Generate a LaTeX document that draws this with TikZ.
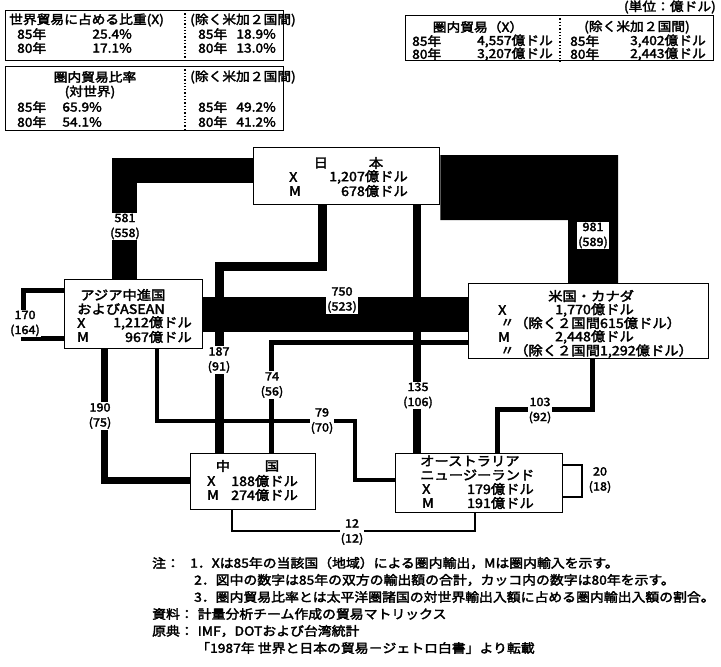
\documentclass[tikz,border=0pt]{standalone}
\usepackage{fontspec}
\setmainfont{Noto Sans CJK JP}[FakeBold=2.5, FakeStretch=1.1]
\pgfdeclarelayer{bg}
\pgfsetlayers{bg,main}
\newcommand\topf{\fontsize{12.5}{14}\selectfont}
\newcommand\boxf{\fontsize{13}{14}\selectfont}
\newcommand\lblf{\fontsize{11.5}{15}\selectfont}
\newcommand\notef{\fontsize{12.6}{14}\selectfont}
\begin{document}
\begin{tikzpicture}[x=1pt,y=-1pt,
  box/.style={draw, line width=1.3pt, fill=white, inner sep=0pt, anchor=north west},
  wire/.style={draw, line join=miter, line cap=butt},
  lbl/.style={fill=white, inner sep=1pt, align=center, font=\lblf},
  tx/.style={inner sep=0pt, anchor=west, font=\boxf},
  tc/.style={inner sep=0pt, anchor=center, font=\boxf},
  te/.style={inner sep=0pt, anchor=east, font=\boxf},
  sx/.style={inner sep=0pt, anchor=west, font=\topf},
  sc/.style={inner sep=0pt, anchor=center, font=\topf},
  se/.style={inner sep=0pt, anchor=east, font=\topf},
  nx/.style={inner sep=0pt, anchor=west, font=\notef},
  divider/.style={dotted, line width=1.3pt}]
\useasboundingbox (0,0) rectangle (721,667);

% ---------- boxes ----------
\node[box, minimum width=278pt, minimum height=50pt] (b1) at (5,10) {};
\node[box, minimum width=278pt, minimum height=64pt] (b2) at (5,66) {};
\node[box, minimum width=308pt, minimum height=45pt] (b3) at (405,15) {};
\node[box, minimum width=186pt, minimum height=57pt] (japan) at (253,147) {};
\node[box, minimum width=138pt, minimum height=69pt] (asia) at (64,279) {};
\node[box, minimum width=240pt, minimum height=75pt] (usa) at (468,283) {};
\node[box, minimum width=125pt, minimum height=56pt] (china) at (190,453) {};
\node[box, minimum width=167pt, minimum height=59pt] (aus) at (395,453) {};

\draw[divider] (b1.north -| 185,0) -- (b1.south -| 185,0);
\draw[divider] (b2.north -| 185,0) -- (b2.south -| 185,0);
\draw[divider] (b3.north -| 560,0) -- (b3.south -| 560,0);

% ---------- connectors ----------
\begin{pgfonlayer}{bg}
\fill[white] (0,0) rectangle (721,667);
% Japan - Asia 581
\draw[wire, line width=25pt] (japan.west |- 0,170.5) -| (asia.north -| 124.5,0);
% Japan - USA 981
\fill (japan.east |- 0,155) -- (618,155) -- (usa.north -| 618,0) -- (usa.north -| 568,0) -- (568,220) -- (japan.east |- 0,220) -- cycle;
% Asia - USA 750
\draw[wire, line width=35pt] (asia.east |- 0,314.5) -- (usa.west |- 0,314.5);
% Japan - China 187
\draw[wire, line width=9pt] (japan.south -| 322,0) |- (219,266) -- (china.north -| 219,0);
% Japan - Australia 135
\draw[wire, line width=8pt] (japan.south -| 417,0) -- (aus.north -| 417,0);
% Asia - China 190
\draw[wire, line width=7pt] (asia.south -| 104,0) |- (china.west |- 0,480);
% Asia - Australia 79
\draw[wire, line width=4pt] (asia.south -| 157,0) |- (355,421) |- (aus.west |- 0,480);
% Asia internal 170
\draw[wire, line width=5pt] (asia.west |- 0,290) -- (23,290) -- (23,338) -- (asia.west |- 0,338);
% USA - China 74
\draw[wire, line width=5pt] (usa.west |- 0,342) -| (china.north -| 271,0);
% USA - Australia 103
\draw[wire, line width=5pt] (usa.south -| 592,0) |- (497,409) -- (aus.north -| 497,0);
% China - Australia 12
\draw[wire, line width=1.5pt] (china.south -| 232,0) |- (475,531) -- (aus.south -| 475,0);
% Australia internal 20
\draw[wire, line width=2pt] (aus.east |- 0,465) -- (582,465) -- (582,497) -- (aus.east |- 0,497);
\end{pgfonlayer}

% ---------- connector labels ----------
\node[lbl] (l581) at (125,226.5) {581\\(558)};
\node[lbl] (l981) at (593,235.5) {981\\(589)};
\node[lbl] (l750) at (342,300) {750\\(523)};
\node[lbl] (l187) at (219,360) {187\\(91)};
\node[lbl] (l74) at (272,385) {74\\(56)};
\node[lbl] (l135) at (418,395.5) {135\\(106)};
\node[lbl] (l190) at (100,416) {190\\(75)};
\node[lbl] (l79) at (322,421) {79\\(70)};
\node[lbl] (l103) at (540,410.5) {103\\(92)};
\node[lbl] (l170) at (25,323.5) {170\\(164)};
\node[lbl, fill=none] (l20) at (600,480) {20\\(18)};
\node[lbl] (l12) at (352,532) {12\\(12)};

% ---------- top boxes text ----------
\node[sx] (b1a) at (9,20) {世界貿易に占める比重(X)};
\node[sx] (b1b) at (17,34) {85年};
\node[se] (b1c) at (132,34) {25.4\%};
\node[sx] (b1d) at (17,48) {80年};
\node[se] (b1e) at (132,48) {17.1\%};
\node[sx] (b1f) at (190,20) {(除く米加２国間)};
\node[sx] (b1g) at (198,34) {85年};
\node[se] (b1h) at (276,34) {18.9\%};
\node[sx] (b1i) at (198,48) {80年};
\node[se] (b1j) at (276,48) {13.0\%};

\node[sc] (b2a) at (95,77) {圏内貿易比率};
\node[sc] (b2b) at (90,92) {(対世界)};
\node[sx] (b2c) at (17,107) {85年};
\node[se] (b2d) at (102,107) {65.9\%};
\node[sx] (b2e) at (17,122) {80年};
\node[se] (b2f) at (102,122) {54.1\%};
\node[sx] (b2g) at (190,77) {(除く米加２国間)};
\node[sx] (b2h) at (198,107) {85年};
\node[se] (b2i) at (276,107) {49.2\%};
\node[sx] (b2j) at (198,122) {80年};
\node[se] (b2k) at (276,122) {41.2\%};

\node[se] (unit) at (716,7) {(単位：億ドル)};
\node[sc] (b3a) at (478,27) {圏内貿易（X）};
\node[sx] (b3b) at (412,41) {85年};
\node[se] (b3c) at (553,41) {4,557億ドル};
\node[sx] (b3d) at (412,54) {80年};
\node[se] (b3e) at (553,54) {3,207億ドル};
\node[sc] (b3f) at (637,27) {(除く米加２国間)};
\node[sx] (b3g) at (570,41) {85年};
\node[se] (b3h) at (706,41) {3,402億ドル};
\node[sx] (b3i) at (570,54) {80年};
\node[se] (b3j) at (706,54) {2,443億ドル};

% ---------- region boxes text ----------
\node[tc] (jpa) at (321,163) {日};
\node[tc] (jpb) at (376,163) {本};
\node[tx] (jpc) at (289,177) {X};
\node[te] (jpd) at (408,177) {1,207億ドル};
\node[tx] (jpe) at (289,191) {M};
\node[te] (jpf) at (408,191) {678億ドル};

\node[tx] (asa) at (80,295) {アジア中進国};
\node[tx] (asb) at (77,309) {およびASEAN};
\node[tx] (asc) at (77,323) {X};
\node[te] (asd) at (192,323) {1,212億ドル};
\node[tx] (ase) at (77,337) {M};
\node[te] (asf) at (192,337) {967億ドル};

\node[tx] (us1) at (548,296) {米国・カナダ};
\node[tx] (us2) at (498,310) {X};
\node[tx] (us3) at (555,310) {1,770億ドル};
\node[tx] (us4) at (500,323) {〃};
\node[tx] (us5) at (514,323) {（除く２国間615億ドル）};
\node[tx] (us6) at (498,337) {M};
\node[tx] (us7) at (555,337) {2,448億ドル};
\node[tx] (us8) at (500,351) {〃};
\node[tx] (us9) at (514,351) {（除く２国間1,292億ドル）};

\node[tc] (cn1) at (223,466) {中};
\node[tc] (cn2) at (272,466) {国};
\node[tx] (cn3) at (207,481) {X};
\node[tx] (cn4) at (231,481) {188億ドル};
\node[tx] (cn5) at (207,495) {M};
\node[tx] (cn6) at (231,495) {274億ドル};

\node[tx] (au1) at (420,461) {オーストラリア};
\node[tx] (au2) at (420,475) {ニュージーランド};
\node[tx] (au3) at (422,489) {X};
\node[te] (au4) at (534,489) {179億ドル};
\node[tx] (au5) at (422,503) {M};
\node[te] (au6) at (534,503) {191億ドル};

% ---------- notes ----------
\node[nx] (n0) at (152,563) {注：};
\node[nx] (n1) at (190,563) {1．Xは85年の当該国（地域）による圏内輸出，Mは圏内輸入を示す。};
\node[nx] (n2) at (194,580) {2．図中の数字は85年の双方の輸出額の合計，カッコ内の数字は80年を示す。};
\node[nx] (n3) at (194,597) {3．圏内貿易比率とは太平洋圏諸国の対世界輸出入額に占める圏内輸出入額の割合。};
\node[nx] (n4) at (152,614) {資料：\hspace{4pt}計量分析チーム作成の貿易マトリックス};
\node[nx] (n5) at (152,631) {原典：\hspace{4pt}IMF，DOTおよび台湾統計};
\node[nx] (n6) at (196,648) {「1987年 世界と日本の貿易－ジェトロ白書」より転載};
\end{tikzpicture}
\end{document}
